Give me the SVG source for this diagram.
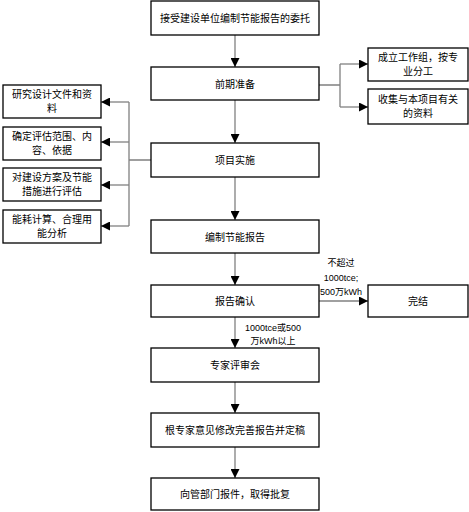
<svg xmlns="http://www.w3.org/2000/svg" width="469" height="512" viewBox="0 0 469 512">
<defs>
<marker id="ah" viewBox="0 0 10 10" refX="10" refY="5" markerWidth="9" markerHeight="9" markerUnits="userSpaceOnUse" orient="auto">
<path d="M0,0 L10,5 L0,10 z" fill="#000"/>
</marker>
<style>
.box{fill:#fff;stroke:#000;stroke-width:1.3}
.t{font-family:"Noto Sans CJK SC","Liberation Sans",sans-serif;font-size:10px;fill:#000;text-anchor:middle}
.lb{font-family:"Liberation Sans","Noto Sans CJK SC",sans-serif;font-size:9px;fill:#000;text-anchor:middle}
.c{fill:none;stroke:#808080;stroke-width:1.3}
.ca{fill:none;stroke:#808080;stroke-width:1.3;marker-end:url(#ah)}
</style>
</defs>
<rect width="469" height="512" fill="#fff"/>
<g id="connectors">
<path class="ca" d="M235,35 V67"/>
<path class="c" d="M319,85 H340 M340,64 V107"/>
<path class="ca" d="M340,64 H368"/>
<path class="ca" d="M340,107 H368"/>
<path class="ca" d="M235,100 V143"/>
<path class="c" d="M151,160 H129 M129,102 V226"/>
<path class="ca" d="M129,102 H101"/>
<path class="ca" d="M129,142 H101"/>
<path class="ca" d="M129,185 H101"/>
<path class="ca" d="M129,226 H101"/>
<path class="ca" d="M235,177 V220"/>
<path class="ca" d="M235,253 V285"/>
<path class="ca" d="M319,301 H368"/>
<path class="ca" d="M235,317 V348"/>
<path class="ca" d="M235,382 V413"/>
<path class="ca" d="M235,447 V478"/>
<text class="lb" x="341" y="266">不超过</text>
<text class="lb" x="341" y="281">1000tce;</text>
<text class="lb" x="341" y="295">500万kWh</text>
<text class="lb" x="273" y="331">1000tce或500</text>
<text class="lb" x="273" y="344">万kWh以上</text>
</g>
<g id="n1"><rect class="box" x="151" y="1" width="168" height="34"/><text class="t" x="235" y="22">接受建设单位编制节能报告的委托</text></g>
<g id="n2"><rect class="box" x="151" y="67" width="168" height="33"/><text class="t" x="235" y="88">前期准备</text></g>
<g id="r1"><rect class="box" x="368" y="48" width="100" height="33"/><text class="t" x="418" y="61">成立工作组，按专</text><text class="t" x="418" y="75">业分工</text></g>
<g id="r2"><rect class="box" x="368" y="89" width="100" height="35"/><text class="t" x="418" y="103">收集与本项目有关</text><text class="t" x="418" y="117">的资料</text></g>
<g id="n3"><rect class="box" x="151" y="143" width="168" height="34"/><text class="t" x="235" y="164">项目实施</text></g>
<g id="l1"><rect class="box" x="3" y="85" width="98" height="33"/><text class="t" x="52" y="98">研究设计文件和资</text><text class="t" x="52" y="112">料</text></g>
<g id="l2"><rect class="box" x="3" y="127" width="98" height="33"/><text class="t" x="52" y="140">确定评估范围、内</text><text class="t" x="52" y="154">容、依据</text></g>
<g id="l3"><rect class="box" x="3" y="168" width="98" height="33"/><text class="t" x="52" y="181">对建设方案及节能</text><text class="t" x="52" y="195">措施进行评估</text></g>
<g id="l4"><rect class="box" x="3" y="210" width="98" height="33"/><text class="t" x="52" y="223">能耗计算、合理用</text><text class="t" x="52" y="237">能分析</text></g>
<g id="n4"><rect class="box" x="151" y="220" width="168" height="33"/><text class="t" x="235" y="241">编制节能报告</text></g>
<g id="n5"><rect class="box" x="151" y="285" width="168" height="32"/><text class="t" x="235" y="305">报告确认</text></g>
<g id="n6"><rect class="box" x="368" y="285" width="100" height="32"/><text class="t" x="418" y="305">完结</text></g>
<g id="n7"><rect class="box" x="151" y="348" width="168" height="34"/><text class="t" x="235" y="369">专家评审会</text></g>
<g id="n8"><rect class="box" x="151" y="413" width="168" height="34"/><text class="t" x="235" y="434">根专家意见修改完善报告并定稿</text></g>
<g id="n9"><rect class="box" x="151" y="478" width="168" height="32"/><text class="t" x="235" y="498">向管部门报件，取得批复</text></g>
</svg>
